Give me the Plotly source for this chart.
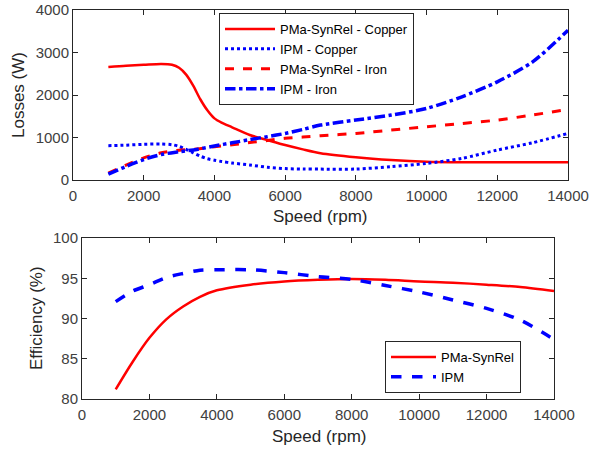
import plotly.graph_objects as go

# Top: losses
speed_cu = [1000, 1500, 2000, 2500, 2800, 3000, 3200, 3400, 3600, 3800, 4000, 4200, 4500, 5000, 5500, 6000, 6500, 7000, 8000, 9000, 10000, 11000, 12000, 13000, 14000]
pma_copper = [2660, 2690, 2710, 2730, 2710, 2640, 2480, 2220, 1900, 1640, 1450, 1350, 1240, 1060, 940, 822, 720, 630, 535, 470, 430, 418, 415, 415, 415]
ipm_copper = [808, 820, 840, 847, 830, 790, 720, 640, 560, 500, 465, 435, 400, 353, 300, 268, 258, 256, 258, 313, 391, 509, 705, 877, 1096]

speed_fe = [1000, 1500, 2000, 2500, 3000, 3500, 4000, 4500, 5000, 5500, 6000, 6500, 7000, 8000, 9000, 10000, 11000, 12000, 13000, 14000]
pma_iron = [160, 350, 520, 640, 700, 730, 780, 830, 880, 930, 980, 1010, 1040, 1096, 1175, 1253, 1330, 1410, 1530, 1660]
ipm_iron = [140, 320, 480, 600, 665, 720, 800, 875, 950, 1020, 1096, 1190, 1292, 1410, 1527, 1684, 1958, 2310, 2780, 3524]

# Bottom: efficiency
speed_eff = [1000, 1500, 2000, 2500, 3000, 3500, 4000, 5000, 6000, 7000, 8000, 9000, 10000, 11000, 12000, 13000, 14000]
eff_pma = [81.2, 84.6, 87.6, 89.9, 91.5, 92.7, 93.5, 94.2, 94.6, 94.8, 94.9, 94.8, 94.6, 94.45, 94.2, 93.9, 93.4]
eff_ipm = [92.1, 93.4, 94.2, 95.1, 95.6, 96.0, 96.05, 96.05, 95.7, 95.2, 94.85, 94.1, 93.3, 92.3, 91.25, 89.8, 87.4]

speed_ticks = [0, 2000, 4000, 6000, 8000, 10000, 12000, 14000]
speed_ticktext = ["0", "2000", "4000", "6000", "8000", "10000", "12000", "14000"]

RED = "#ff0000"
BLUE = "#0000ff"
FONT = "Liberation Sans, Arial, sans-serif"
TXT = "#262626"
TICK = "#404040"

fig = go.Figure()
fig.add_trace(go.Scatter(x=speed_cu, y=pma_copper, mode="lines", name="PMa-SynRel - Copper",
                         line=dict(color=RED, width=2.5, dash="solid", shape="spline", smoothing=0.8),
                         xaxis="x", yaxis="y", legend="legend"))
fig.add_trace(go.Scatter(x=speed_cu, y=ipm_copper, mode="lines", name="IPM - Copper",
                         line=dict(color=BLUE, width=3, dash="dot", shape="spline", smoothing=0.8),
                         xaxis="x", yaxis="y", legend="legend"))
fig.add_trace(go.Scatter(x=speed_fe, y=pma_iron, mode="lines", name="PMa-SynRel - Iron",
                         line=dict(color=RED, width=3, dash="dash", shape="spline", smoothing=0.8),
                         xaxis="x", yaxis="y", legend="legend"))
fig.add_trace(go.Scatter(x=speed_fe, y=ipm_iron, mode="lines", name="IPM - Iron",
                         line=dict(color=BLUE, width=3.5, dash="dashdot", shape="spline", smoothing=0.8),
                         xaxis="x", yaxis="y", legend="legend"))

fig.add_trace(go.Scatter(x=speed_eff, y=eff_pma, mode="lines", name="PMa-SynRel",
                         line=dict(color=RED, width=2.5, dash="solid", shape="spline", smoothing=0.8),
                         xaxis="x2", yaxis="y2", legend="legend2"))
fig.add_trace(go.Scatter(x=speed_eff, y=eff_ipm, mode="lines", name="IPM",
                         line=dict(color=BLUE, width=3.5, dash="dash", shape="spline", smoothing=0.8),
                         xaxis="x2", yaxis="y2", legend="legend2"))

axis_common = dict(showgrid=False, zeroline=False, showline=True, linecolor="#262626", linewidth=1,
                   mirror="ticks", ticks="inside", ticklen=5, tickcolor="#262626", automargin=False,
                   tickfont=dict(family=FONT, size=15, color=TICK))

title_font = dict(family=FONT, size=17, color=TXT)

fig.update_layout(
    width=592, height=451,
    margin=dict(l=0, r=0, t=0, b=0),
    paper_bgcolor="white", plot_bgcolor="white",
    font=dict(family=FONT, color=TXT),
    xaxis=dict(domain=[73/592, 568/592], anchor="y", range=[0, 14000], tickvals=speed_ticks,
               ticktext=speed_ticktext, ticklabelstandoff=2, **axis_common),
    yaxis=dict(domain=[1-180/451, 1-10/451], anchor="x", range=[0, 4000], tickvals=[0, 1000, 2000, 3000, 4000],
               **axis_common),
    xaxis2=dict(domain=[82/592, 554/592], anchor="y2", range=[0, 14000], tickvals=speed_ticks,
                ticktext=speed_ticktext, ticklabelstandoff=2, **axis_common),
    yaxis2=dict(domain=[1-399/451, 1-238/451], anchor="x2", range=[80, 100], tickvals=[80, 85, 90, 95, 100],
                **axis_common),
    legend=dict(x=219/592, y=1-13/451, xanchor="left", yanchor="top", bgcolor="white",
                bordercolor="#262626", borderwidth=1, font=dict(family=FONT, size=13, color="black"),
                tracegroupgap=0, itemwidth=50),
    legend2=dict(x=385/592, y=1-341/451, xanchor="left", yanchor="top", bgcolor="white",
                 bordercolor="#262626", borderwidth=1, font=dict(family=FONT, size=13, color="black"),
                 tracegroupgap=0, itemwidth=45),
    showlegend=True,
    annotations=[
        dict(text="Speed (rpm)", x=320/592, y=1-216/451, xref="paper", yref="paper",
             showarrow=False, font=title_font, xanchor="center", yanchor="middle"),
        dict(text="Losses (W)", x=18/592, y=1-95/451, xref="paper", yref="paper", textangle=-90,
             showarrow=False, font=title_font, xanchor="center", yanchor="middle"),
        dict(text="Speed (rpm)", x=319/592, y=1-436/451, xref="paper", yref="paper",
             showarrow=False, font=title_font, xanchor="center", yanchor="middle"),
        dict(text="Efficiency (%)", x=36/592, y=1-318/451, xref="paper", yref="paper", textangle=-90,
             showarrow=False, font=title_font, xanchor="center", yanchor="middle"),
    ],
)

fig.write_html("out.html", config={"displayModeBar": False},
               post_script="document.body.style.margin='0';document.body.style.overflow='hidden';")
